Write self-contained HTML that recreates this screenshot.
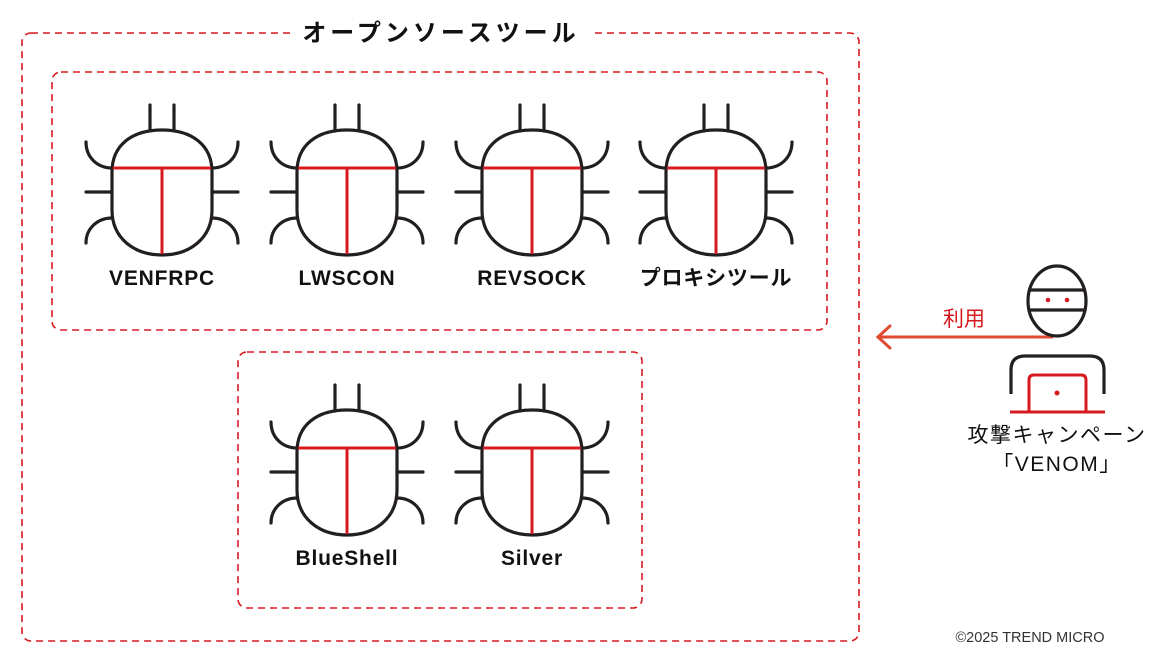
<!DOCTYPE html>
<html><head><meta charset="utf-8"><style>
body{margin:0;background:#fff;width:1158px;height:662px;overflow:hidden}
svg text{font-family:"Liberation Sans","Noto Sans CJK JP",sans-serif}
</style></head><body>
<svg width="1158" height="662" viewBox="0 0 1158 662" xmlns="http://www.w3.org/2000/svg">
<defs>
<g id="bug">
 <g fill="none" stroke="#231f20" stroke-width="3.2" stroke-linecap="round">
  <line x1="-12" y1="105" x2="-12" y2="131"/>
  <line x1="12" y1="105" x2="12" y2="131"/>
  <path d="M-50,172 C-50,145 -30,130 0,130 C30,130 50,145 50,172 L50,210 C50,238 28,255 0,255 C-28,255 -50,238 -50,210 Z"/>
  <path d="M-76,142 C-76,158 -64,168 -50,168"/>
  <path d="M76,142 C76,158 64,168 50,168"/>
  <line x1="-76" y1="192" x2="-50" y2="192"/>
  <line x1="50" y1="192" x2="76" y2="192"/>
  <path d="M-76,243 C-76,228 -64,218 -50,218"/>
  <path d="M76,243 C76,228 64,218 50,218"/>
 </g>
 <g stroke="#d71920" stroke-width="3">
  <line x1="-49" y1="168" x2="49" y2="168"/>
  <line x1="0" y1="168" x2="0" y2="254"/>
 </g>
</g>
</defs>
<g fill="none" stroke="#d71920" stroke-width="1.6" stroke-dasharray="7,5">
 <rect x="22" y="33" width="837" height="608" rx="9"/>
 <rect x="52" y="72" width="775" height="258" rx="9"/>
 <rect x="238" y="352" width="404" height="256" rx="9"/>
</g>
<rect x="292" y="18" width="298" height="30" fill="#fff"/>
<text x="441" y="41" text-anchor="middle" font-size="24" font-weight="bold" letter-spacing="4" fill="#111">オープンソースツール</text>

<use href="#bug" x="162" y="0"/>
<use href="#bug" x="347" y="0"/>
<use href="#bug" x="532" y="0"/>
<use href="#bug" x="716" y="0"/>
<use href="#bug" x="347" y="280"/>
<use href="#bug" x="532" y="280"/>

<g font-size="21" font-weight="bold" fill="#111" text-anchor="middle" letter-spacing="0.8">
 <text x="162" y="285">VENFRPC</text>
 <text x="347" y="285">LWSCON</text>
 <text x="532" y="285">REVSOCK</text>
 <text x="716" y="285">プロキシツール</text>
 <text x="347" y="565">BlueShell</text>
 <text x="532" y="565">Silver</text>
</g>

<g stroke="#e04a2f" stroke-width="3" fill="none" stroke-linecap="round">
 <line x1="878" y1="337" x2="1052" y2="337"/>
 <polyline points="890,326 878,337 890,348"/>
</g>
<text x="964" y="326" font-size="21" fill="#d71920" text-anchor="middle">利用</text>

<g fill="none" stroke="#231f20" stroke-width="3.2">
 <ellipse cx="1057" cy="301" rx="29" ry="35"/>
 <line x1="1029" y1="290" x2="1085" y2="290"/>
 <line x1="1029" y1="310" x2="1085" y2="310"/>
 <path d="M1011,394 L1011,370 Q1011,356 1025,356 L1090,356 Q1104,356 1104,370 L1104,394"/>
</g>
<circle cx="1048" cy="300" r="2.3" fill="#d71920"/>
<circle cx="1067" cy="300" r="2.3" fill="#d71920"/>
<g fill="none" stroke="#d71920" stroke-width="3">
 <path d="M1029,412 L1029,380 Q1029,375 1034,375 L1081,375 Q1086,375 1086,380 L1086,412"/>
 <line x1="1010" y1="412" x2="1105" y2="412"/>
</g>
<circle cx="1057" cy="393" r="2.5" fill="#d71920"/>
<text x="1057" y="442" font-size="21" fill="#111" text-anchor="middle" letter-spacing="1.5">攻撃キャンペーン</text>
<text x="1057" y="471" font-size="21" fill="#111" text-anchor="middle" letter-spacing="1.5">「VENOM」</text>

<text x="1030" y="642" font-size="14.5" fill="#333" text-anchor="middle">©2025 TREND MICRO</text>
</svg>
</body></html>
